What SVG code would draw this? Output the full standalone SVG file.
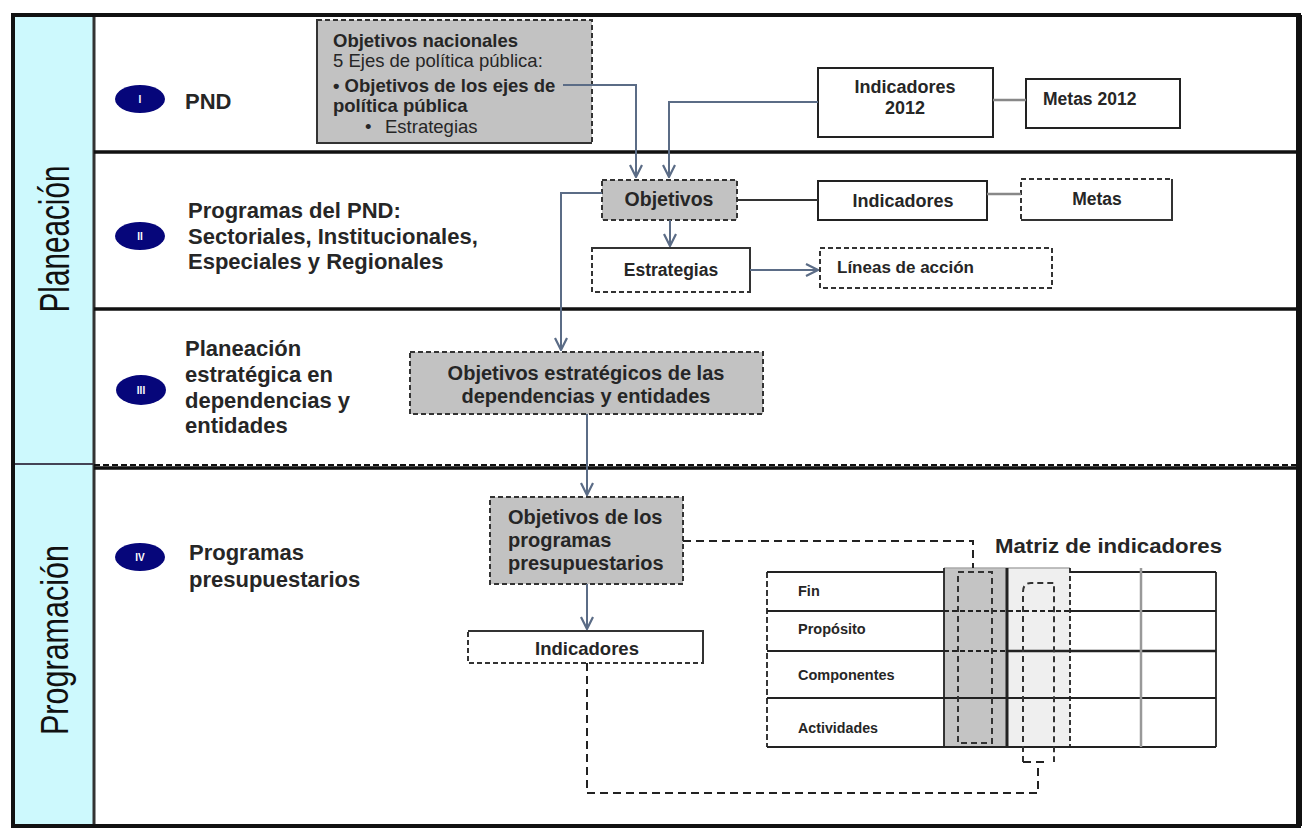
<svg xmlns="http://www.w3.org/2000/svg" width="1310" height="837" viewBox="0 0 1310 837">
<style>
  text { font-family: "Liberation Sans", Arial, sans-serif; fill: #262626; }
  .b { font-weight: bold; }
  .lbl { font-size: 22px; font-weight: bold; }
  .side { font-size: 42px; fill: #111; }
  .box { fill: #fff; stroke: #222; stroke-width: 2; }
  .gbox { fill: #c2c2c2; stroke: #333; stroke-width: 2; stroke-dasharray: 5 3; }
  .dbox { fill: #fff; stroke: #333; stroke-width: 2; stroke-dasharray: 5 3; }
  .badge { fill: #06067a; }
  .bt { font-size: 10px; font-weight: bold; fill: #fff; }
  .arr { fill: none; stroke: #5b6c86; stroke-width: 2; marker-end: url(#ah); }
  .ln { fill: none; stroke: #333; stroke-width: 2; }
  .gln { fill: none; stroke: #888; stroke-width: 2.5; }
  .dash { fill: none; stroke: #222; stroke-width: 2; stroke-dasharray: 8 5; }
  .sep { stroke: #111; stroke-width: 3.5; }
  .tl { stroke: #222; stroke-width: 1.8; }
  .mt { font-size: 14.5px; font-weight: bold; }
</style>
<defs>
  <marker id="ah" viewBox="0 0 14 14" refX="13" refY="7" markerWidth="14" markerHeight="14" markerUnits="userSpaceOnUse" orient="auto">
    <path d="M1,1 L13,7 L1,13" fill="none" stroke="#5b6c86" stroke-width="2.2"/>
  </marker>
</defs>
<rect x="0" y="0" width="1310" height="837" fill="#fff"/>

<g id="frame">
  <rect x="13" y="15" width="81" height="811" fill="#cdf9fd"/>
  <line x1="13" y1="464" x2="94" y2="464" stroke="#445" stroke-width="2"/>
  <line x1="94" y1="15" x2="94" y2="826" stroke="#333" stroke-width="3"/>
  <line x1="94" y1="152" x2="1299" y2="152" class="sep"/>
  <line x1="94" y1="309" x2="1299" y2="309" class="sep"/>
  <line x1="94" y1="468" x2="1299" y2="468" class="sep"/>
  <line x1="94" y1="465" x2="1299" y2="465" stroke="#111" stroke-width="2" stroke-dasharray="6 3"/>
  <rect x="13" y="15" width="1286" height="811" fill="none" stroke="#111" stroke-width="4"/>
  <line x1="1299" y1="15" x2="1299" y2="826" stroke="#111" stroke-width="6"/>
  <text class="side" transform="translate(69,239) rotate(-90)" text-anchor="middle" textLength="147" lengthAdjust="spacingAndGlyphs">Planeación</text>
  <text class="side" style="font-size:38px" transform="translate(68,640) rotate(-90)" text-anchor="middle" textLength="190" lengthAdjust="spacingAndGlyphs">Programación</text>
</g>

<g id="row1-label">
  <ellipse class="badge" cx="140" cy="99" rx="25" ry="14"/>
  <text class="bt" x="140" y="103" text-anchor="middle">I</text>
  <text class="lbl" x="185" y="109">PND</text>
</g>
<g id="row2-label">
  <ellipse class="badge" cx="140" cy="236" rx="25" ry="14"/>
  <text class="bt" x="140" y="240" text-anchor="middle">II</text>
  <text class="lbl" x="188" y="218">Programas del PND:</text>
  <text class="lbl" x="188" y="244">Sectoriales, Institucionales,</text>
  <text class="lbl" x="188" y="269">Especiales y Regionales</text>
</g>
<g id="row3-label">
  <ellipse class="badge" cx="141" cy="390" rx="25" ry="15"/>
  <text class="bt" x="141" y="394" text-anchor="middle">III</text>
  <text class="lbl" x="185" y="356">Planeación</text>
  <text class="lbl" x="185" y="382">estratégica en</text>
  <text class="lbl" x="185" y="408">dependencias y</text>
  <text class="lbl" x="185" y="433">entidades</text>
</g>
<g id="row4-label">
  <ellipse class="badge" cx="140" cy="557" rx="25" ry="14"/>
  <text class="bt" x="140" y="561" text-anchor="middle">IV</text>
  <text class="lbl" x="189" y="560">Programas</text>
  <text class="lbl" x="189" y="587">presupuestarios</text>
</g>

<g id="objetivos-nacionales">
  <rect x="317" y="20" width="275" height="123" class="gbox"/>
  <path d="M317,20 V143 H592" fill="none" stroke="#333" stroke-width="2"/>
  <text class="b" x="333" y="47" font-size="18.5">Objetivos nacionales</text>
  <text x="333" y="67" font-size="18.5">5 Ejes de política pública:</text>
  <text class="b" x="333" y="92" font-size="18.5">• Objetivos de los ejes de</text>
  <text class="b" x="333" y="112" font-size="18.5">política pública</text>
  <text x="365" y="133" font-size="18.5">•</text>
  <text x="385" y="133" font-size="18.5">Estrategias</text>
</g>

<g id="indicadores-2012">
  <rect x="818" y="68" width="175" height="69" class="box"/>
  <text class="b" x="905" y="93" font-size="18" text-anchor="middle">Indicadores</text>
  <text class="b" x="905" y="114" font-size="18" text-anchor="middle">2012</text>
</g>
<g id="metas-2012">
  <rect x="1026" y="79" width="154" height="49" class="box"/>
  <text class="b" x="1043" y="105" font-size="17.5">Metas 2012</text>
</g>

<g id="objetivos">
  <rect x="602" y="180" width="135" height="40" class="gbox"/>
  <text class="b" x="669" y="206" font-size="19.5" text-anchor="middle">Objetivos</text>
</g>
<g id="indicadores">
  <rect x="818" y="181" width="169" height="39" class="box"/>
  <text class="b" x="903" y="207" font-size="18" text-anchor="middle">Indicadores</text>
</g>
<g id="metas">
  <rect x="1021" y="179" width="151" height="41" class="dbox"/>
  <path d="M1172,179 V220 H1021" fill="none" stroke="#333" stroke-width="2"/>
  <text class="b" x="1097" y="205" font-size="17.5" text-anchor="middle">Metas</text>
</g>
<g id="estrategias">
  <rect x="592" y="248" width="158" height="44" class="dbox"/>
  <path d="M592,248 H750 V292" fill="none" stroke="#333" stroke-width="2"/>
  <text class="b" x="671" y="276" font-size="17.5" text-anchor="middle">Estrategias</text>
</g>
<g id="lineas-de-accion">
  <rect x="820" y="248" width="232" height="40" class="dbox"/>
  <text class="b" x="837" y="273" font-size="17">Líneas de acción</text>
</g>

<g id="objetivos-estrategicos">
  <rect x="410" y="352" width="353" height="62" class="gbox"/>
  <text class="b" x="586" y="380" font-size="20" text-anchor="middle">Objetivos estratégicos de las</text>
  <text class="b" x="586" y="403" font-size="20" text-anchor="middle">dependencias y entidades</text>
</g>

<g id="objetivos-programas">
  <rect x="490" y="497" width="193" height="87" class="gbox"/>
  <text class="b" x="508" y="524" font-size="20">Objetivos de los</text>
  <text class="b" x="508" y="547" font-size="20">programas</text>
  <text class="b" x="508" y="570" font-size="20">presupuestarios</text>
</g>
<g id="indicadores-pp">
  <rect x="468" y="631" width="235" height="32" class="dbox"/>
  <path d="M468,631 H703 V663" fill="none" stroke="#333" stroke-width="2"/>
  <text class="b" x="587" y="655" font-size="18.5" text-anchor="middle">Indicadores</text>
</g>

<g id="matriz">
  <text class="b" x="995" y="553" font-size="20" textLength="227" lengthAdjust="spacingAndGlyphs">Matriz de indicadores</text>
  <rect x="944" y="568" width="63" height="179" fill="#c4c4c4"/>
  <rect x="1007" y="568" width="63" height="179" fill="#efefef"/>
  <line x1="944" y1="568" x2="1070" y2="568" stroke="#aaa" stroke-width="1.5"/>
  <line x1="767" y1="572" x2="944" y2="572" class="tl"/>
  <line x1="1070" y1="572" x2="1216" y2="572" class="tl"/>
  <line x1="767" y1="747" x2="1216" y2="747" class="tl" style="stroke-width:2.2"/>
  <line x1="767" y1="572" x2="767" y2="747" class="tl" stroke-dasharray="6 3"/>
  <line x1="1216" y1="572" x2="1216" y2="747" class="tl"/>
  <line x1="767" y1="611" x2="944" y2="611" class="tl"/>
  <line x1="944" y1="611" x2="1070" y2="611" class="tl" stroke-dasharray="5 3"/>
  <line x1="1070" y1="611" x2="1216" y2="611" class="tl"/>
  <line x1="767" y1="651" x2="944" y2="651" class="tl"/>
  <line x1="944" y1="651" x2="1007" y2="651" class="tl" stroke-dasharray="5 3"/>
  <line x1="1007" y1="651" x2="1216" y2="651" class="tl" style="stroke-width:2.4"/>
  <line x1="767" y1="698" x2="1216" y2="698" class="tl" style="stroke-width:2.2"/>
  <line x1="944" y1="568" x2="944" y2="747" class="tl"/>
  <line x1="1007" y1="568" x2="1007" y2="747" stroke="#222" stroke-width="3"/>
  <line x1="1070" y1="568" x2="1070" y2="747" class="tl" stroke-dasharray="5 3"/>
  <line x1="1141" y1="568" x2="1141" y2="747" stroke="#999" stroke-width="2.5"/>
  <rect x="958" y="572" width="34" height="171" fill="none" stroke="#333" stroke-width="2" stroke-dasharray="6 4"/>
  <path d="M1023,762 V592 Q1023,583 1031,583 H1054 V762" fill="none" stroke="#333" stroke-width="2" stroke-dasharray="6 4"/>
  <text class="mt" x="798" y="596">Fin</text>
  <text class="mt" x="798" y="634">Propósito</text>
  <text class="mt" x="798" y="680">Componentes</text>
  <text class="mt" x="798" y="733" textLength="80" lengthAdjust="spacingAndGlyphs">Actividades</text>
</g>

<g id="connectors">
  <path class="arr" d="M563,85 H636 V177"/>
  <path class="arr" d="M818,102 H669 V177"/>
  <path class="arr" d="M670,220 V246"/>
  <path class="arr" d="M750,270 H818"/>
  <path class="arr" d="M602,193 H561 V350"/>
  <path class="arr" d="M587,414 V495"/>
  <path class="arr" d="M587,584 V629"/>
  <path class="ln" d="M737,200 H818"/>
  <path class="gln" d="M987,194 H1021"/>
  <path class="gln" d="M993,100 H1026"/>
  <path class="dash" d="M683,541 H973 V568"/>
  <path class="dash" d="M587,663 V793 H1038 V762"/>
  <path class="dash" d="M1023,762 H1048"/>
</g>
</svg>
